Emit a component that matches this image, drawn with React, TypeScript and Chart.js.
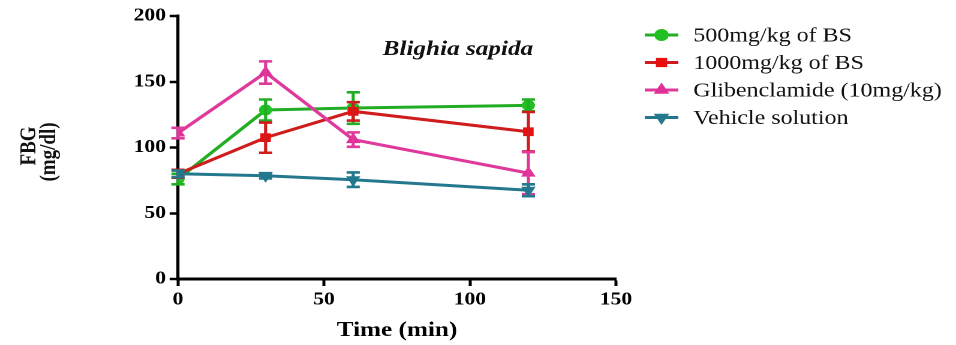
import React, { useEffect, useRef } from "react";
import { Chart, registerables } from "chart.js";
import { drawPoint } from "chart.js/helpers";

Chart.register(...registerables);

// ---- data ----
const timePoints = [0, 30, 60, 120];
const seriesNames = ["500mg/kg of BS", "1000mg/kg of BS", "Glibenclamide (10mg/kg)", "Vehicle solution"];
const bs500 = [76, 128.5, 130, 132];
const bs500Err = [4, 8, 12, 4.5];
const bs1000 = [80, 107.5, 127.5, 112];
const bs1000Err = [3, 11.5, 7, 15];
const gliben = [111, 157, 106, 80.5];
const glibenErr = [4, 8.5, 5.5, 16];
const vehicle = [80, 78.5, 75.5, 67.5];
const vehicleErr = [2.5, 2, 5.5, 4.5];
const xTicks = [0, 50, 100, 150];
const yTicks = [0, 50, 100, 150, 200];
const annotationText = "Blighia sapida";
const xTitle = "Time (min)";
const yTitleLines = ["FBG", "(mg/dl)"];

const seriesValues = [bs500, bs1000, gliben, vehicle];
const seriesErrors = [bs500Err, bs1000Err, glibenErr, vehicleErr];
const seriesColors = ["#22ae24", "#cf1c1c", "#df3a9b", "#23788e"];
const pointColors = ["#22c022", "#e81010", "#e0309a", "#23788e"];
const pointStyles = ["circle", "rect", "triangle", "triangle"];
const pointRotations = [0, 0, 0, 180];
const pointRadii = [5, 5.5, 6, 6];

// inner (unstretched) canvas geometry
const OUT_W = 956;
const IN_W = 797;
const H = 345;
const SX = OUT_W / IN_W;
const SERIF = "'Liberation Serif', 'Times New Roman', serif";

const errorBars = {
  id: "errorBars",
  afterDatasetDraw(chart: any, args: any) {
    const i = args.index;
    const vals = seriesValues[i];
    const errs = seriesErrors[i];
    const y = chart.scales.y;
    const ctx = chart.ctx;
    ctx.save();
    ctx.strokeStyle = seriesColors[i];
    ctx.lineWidth = 2.6;
    args.meta.data.forEach((pt: any, k: number) => {
      const top = y.getPixelForValue(vals[k] + errs[k]);
      const bot = y.getPixelForValue(vals[k] - errs[k]);
      const x = pt.x;
      ctx.beginPath();
      ctx.moveTo(x, top);
      ctx.lineTo(x, bot);
      ctx.moveTo(x - 5.5, top);
      ctx.lineTo(x + 5.5, top);
      ctx.moveTo(x - 5.5, bot);
      ctx.lineTo(x + 5.5, bot);
      ctx.stroke();
    });
    ctx.restore();
  },
};

const extras = {
  id: "extras",
  afterDraw(chart: any) {
    const ctx = chart.ctx;
    ctx.save();
    // legend
    const rowsY = [35, 62.5, 90, 117.5];
    seriesNames.forEach((name, i) => {
      const cy = rowsY[i];
      ctx.strokeStyle = seriesColors[i];
      ctx.lineWidth = 3;
      ctx.beginPath();
      ctx.moveTo(537.5, cy);
      ctx.lineTo(565.5, cy);
      ctx.stroke();
      ctx.fillStyle = pointColors[i];
      ctx.strokeStyle = pointColors[i];
      drawPoint(
        ctx,
        { pointStyle: pointStyles[i], radius: 4.5, rotation: pointRotations[i], borderWidth: 1 },
        551.5,
        cy
      );
      ctx.fillStyle = "#111";
      ctx.font = `20px ${SERIF}`;
      ctx.textAlign = "left";
      ctx.textBaseline = "middle";
      ctx.fillText(name, 578, cy + 1);
    });
    // annotation
    ctx.fillStyle = "#111";
    ctx.font = `italic bold 21px ${SERIF}`;
    ctx.textAlign = "left";
    ctx.textBaseline = "alphabetic";
    ctx.fillText(annotationText, 319, 55);
    // y title (rotated, two lines)
    ctx.font = `bold 19px ${SERIF}`;
    ctx.textAlign = "center";
    ctx.textBaseline = "middle";
    const ys = [146, 152];
    const xs = [24.5, 41];
    yTitleLines.forEach((t, k) => {
      ctx.save();
      ctx.translate(xs[k], ys[k]);
      ctx.rotate(-Math.PI / 2);
      ctx.fillText(t, 0, 0);
      ctx.restore();
    });
    ctx.restore();
  },
};

export default function App() {
  const ref = useRef<HTMLCanvasElement | null>(null);
  useEffect(() => {
    document.body.style.margin = "0";
    const canvas = ref.current!;
    const chart = new Chart(canvas, {
      type: "line",
      data: {
        datasets: seriesNames.map((name, i) => ({
          label: name,
          data: timePoints.map((t, k) => ({ x: t, y: seriesValues[i][k] })),
          borderColor: seriesColors[i],
          backgroundColor: pointColors[i],
          pointBackgroundColor: pointColors[i],
          pointBorderColor: pointColors[i],
          borderWidth: 3,
          pointStyle: pointStyles[i] as any,
          pointRotation: pointRotations[i],
          pointRadius: pointRadii[i],
          pointBorderWidth: 1,
          tension: 0,
          fill: false,
          order: [3, 2, 1, 0][i],
        })),
      },
      options: {
        animation: false,
        responsive: false,
        devicePixelRatio: 2,
        layout: { padding: { left: 0, top: 16, right: IN_W - 513.5, bottom: 0 } },
        plugins: { legend: { display: false }, tooltip: { enabled: false } },
        scales: {
          x: {
            type: "linear",
            min: 0,
            max: 150,
            afterFit: (s: any) => {
              s.height = H - 279;
            },
            afterBuildTicks: (s: any) => {
              s.ticks = xTicks.map((v) => ({ value: v }));
            },
            grid: {
              drawOnChartArea: false,
              drawTicks: true,
              tickLength: 7,
              tickWidth: 2.5,
              tickColor: "#000",
            },
            border: { display: true, color: "#000", width: 3 },
            ticks: {
              color: "#000",
              padding: 3,
              font: { family: SERIF, size: 18, weight: "bold" },
            },
            title: {
              display: true,
              text: xTitle,
              color: "#000",
              font: { family: SERIF, size: 21, weight: "bold" },
              padding: { top: 0, bottom: 2 },
            },
          },
          y: {
            type: "linear",
            min: 0,
            max: 200,
            afterFit: (s: any) => {
              s.width = 148.4;
            },
            afterBuildTicks: (s: any) => {
              s.ticks = yTicks.map((v) => ({ value: v }));
            },
            grid: {
              drawOnChartArea: false,
              drawTicks: true,
              tickLength: 7,
              tickWidth: 2.5,
              tickColor: "#000",
            },
            border: { display: true, color: "#000", width: 2.6 },
            ticks: {
              color: "#000",
              padding: 3,
              font: { family: SERIF, size: 18, weight: "bold" },
            },
          },
        },
      },
      plugins: [errorBars, extras],
    });
    return () => chart.destroy();
  }, []);

  return (
    <div style={{ width: OUT_W, height: H, overflow: "hidden", position: "relative", background: "#fff" }}>
      <div
        style={{
          width: IN_W,
          height: H,
          transform: `scaleX(${SX})`,
          transformOrigin: "0 0",
        }}
      >
        <canvas ref={ref} width={IN_W} height={H} style={{ display: "block" }} />
      </div>
    </div>
  );
}
